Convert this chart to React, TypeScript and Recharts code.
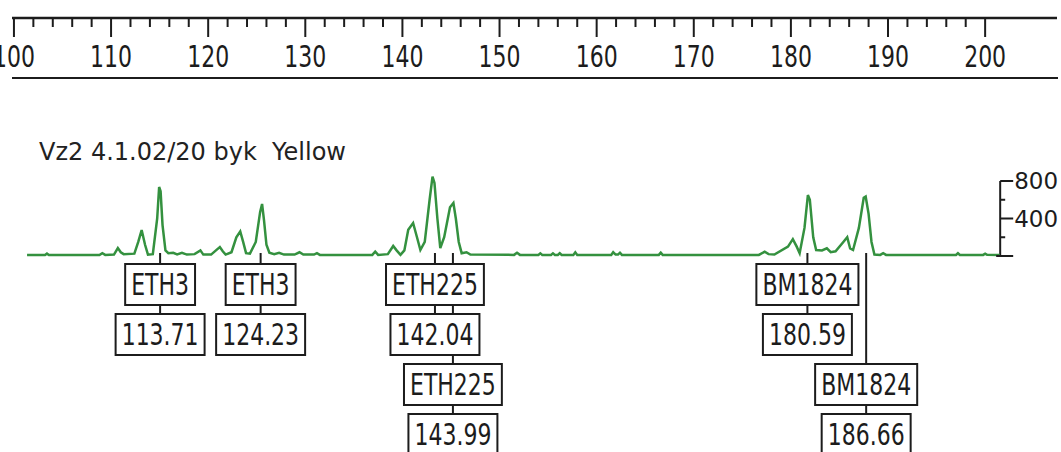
import { ComposedChart, Line, Scatter, XAxis, YAxis, ReferenceLine } from 'recharts';

// electropherogram trace (size on the ruler scale, height in rfu)
const traceSize = [
  101.35, 103.2, 103.4, 103.6, 108.8, 109.1, 109.4, 110.3, 110.7, 111.0, 111.3,
  112.4, 112.8, 113.15, 113.5, 113.8, 114.3, 114.75, 114.95, 115.1, 115.3, 115.6, 115.9,
  116.4, 116.8, 117.3, 117.8, 118.6, 119.2, 119.5,
  120.3, 120.8, 121.2, 121.5, 121.8, 122.4, 122.9, 123.3, 123.6, 123.9,
  124.3, 124.9, 125.35, 125.55, 125.75, 126.0, 126.3, 126.8, 127.3, 127.8,
  128.9, 129.4, 129.8, 130.9, 131.2, 131.5, 136.9, 137.2, 137.5,
  138.5, 139.05, 139.4, 139.8, 140.2, 140.6, 141.1, 141.5, 141.85, 142.3,
  142.8, 143.1, 143.3, 143.6, 143.9, 144.3, 144.9, 145.25, 145.5, 145.8, 146.1, 146.6, 147.0,
  151.5, 151.8, 152.1, 154.0, 154.2, 154.4, 155.3, 155.5, 155.7, 156.0, 156.2, 156.4, 157.6, 157.8, 158.0,
  161.5, 161.7, 161.95, 162.2, 162.4, 162.6, 166.4, 166.6, 166.8,
  176.7, 177.3, 177.7, 178.3, 179.7, 180.2, 180.6, 180.9,
  181.4, 181.75, 181.95, 182.3, 182.6, 183.2, 183.7, 184.1, 184.6, 185.4, 185.8, 186.1, 186.4,
  187.0, 187.5, 187.7, 188.0, 188.3, 188.6, 189.2, 189.5, 189.8, 197.0, 197.2, 197.4, 199.8, 200.0, 200.2, 201.5,
];
const traceRfu = [
  10, 10, 25, 10, 10, 30, 12, 15, 85, 40, 20,
  25, 150, 277, 120, 15, 20, 400, 736, 690, 330, 60, 30,
  35, 18, 35, 15, 20, 60, 15,
  15, 60, 96, 50, 15, 40, 200, 262, 150, 30,
  25, 150, 470, 555, 380, 120, 35, 20, 35, 15,
  15, 40, 15, 15, 30, 12, 12, 46, 12,
  20, 107, 60, 12, 60, 280, 352, 200, 64, 150,
  600, 846, 780, 400, 85, 200, 520, 565, 400, 150, 30, 40, 15,
  12, 35, 12, 12, 28, 12, 12, 28, 12, 12, 30, 12, 12, 40, 12,
  12, 40, 15, 15, 35, 12, 12, 35, 12,
  12, 45, 20, 15, 100, 180, 100, 30,
  300, 650, 600, 200, 64, 60, 82, 40, 50, 150, 200, 80, 64,
  300, 620, 633, 450, 150, 15, 12, 30, 12, 12, 30, 12, 12, 25, 12, 10,
];

const rulerTicks = [
  100, 102, 104, 106, 108, 110, 112, 114, 116, 118, 120, 122, 124, 126, 128, 130, 132, 134,
  136, 138, 140, 142, 144, 146, 148, 150, 152, 154, 156, 158, 160, 162, 164, 166, 168, 170,
  172, 174, 176, 178, 180, 182, 184, 186, 188, 190, 192, 194, 196, 198, 200,
];

const intensityTicks = [0, 200, 400, 600, 800];
const intensityLabels = ['', '', '400', '', '800'];

const markerNames = ['ETH3', 'ETH3', 'ETH225', 'ETH225', 'BM1824', 'BM1824'];
const markerSizes = ['113.71', '124.23', '142.04', '143.99', '180.59', '186.66'];
const markerAt = [115.05, 125.4, 143.35, 145.2, 181.7, 187.75];
const markerTier = [0, 0, 0, 1, 0, 1];

const TITLE = 'Vz2 4.1.02/20 byk  Yellow';

const INK = '#1c1c1c';
const GREEN = '#34913f';
const FONT = '"DejaVu Sans", "Noto Sans", sans-serif';
const X_DOMAIN = [99.8, 207.4];
const Y_DOMAIN = [0, 2539];
const SCALE_AT = 201.55;
const BOX_H = 41;

const trace = traceSize.map((size, i) => ({ size, rfu: traceRfu[i] }));
const scaleMarks = intensityTicks.map((rfu, i) => ({ size: SCALE_AT, rfu, label: intensityLabels[i] }));
// lower tier first so the upper boxes paint over its leader line
const markers = markerNames
  .map((name, i) => ({ size: markerAt[i], rfu: 0, name, value: markerSizes[i], tier: markerTier[i] }))
  .sort((a, b) => b.tier - a.tier);

let measureCtx: CanvasRenderingContext2D | null = null;
function textWidth(s: string) {
  if (!measureCtx) measureCtx = document.createElement('canvas').getContext('2d');
  if (!measureCtx) return s.length * 14;
  measureCtx.font = '22px "DejaVu Sans"';
  return measureCtx.measureText(s).width;
}

function RulerTick({ x, y, payload }: any) {
  const v = payload.value;
  const major = v % 10 === 0;
  return (
    <g>
      <line x1={x} x2={x} y1={y} y2={y + (major ? 19 : 9)} stroke={INK} strokeWidth={2} />
      {major && (
        <text transform={`translate(${x} ${y + 49}) scale(1 1.4)`} textAnchor="middle" fontSize={22} fontFamily={FONT} fill={INK}>
          {v}
        </text>
      )}
    </g>
  );
}

function ScaleMark({ cx, cy, payload }: any) {
  const major = payload.label !== '' || payload.rfu === 0;
  return (
    <g>
      <line x1={cx - (payload.rfu === 0 ? 4 : 0)} x2={cx + (major ? 13 : 5)} y1={cy} y2={cy} stroke={INK} strokeWidth={2} />
      {payload.label && (
        <text x={cx + 14} y={cy + 8} fontSize={23} fontFamily={FONT} fill={INK}>
          {payload.label}
        </text>
      )}
    </g>
  );
}

function BoxLabel({ cx, top, text }: { cx: number; top: number; text: string }) {
  const w = textWidth(text) + 12;
  return (
    <g>
      <rect x={cx - w / 2} y={top} width={w} height={BOX_H} fill="#fff" stroke={INK} strokeWidth={2} />
      <text transform={`translate(${cx} ${top + 31}) scale(1 1.35)`} textAnchor="middle" fontSize={22} fontFamily={FONT} fill={INK}>
        {text}
      </text>
    </g>
  );
}

function MarkerTag({ cx, cy, payload }: any) {
  const top = cy + 8 + payload.tier * 100;
  return (
    <g>
      <line x1={cx} x2={cx} y1={cy - 3} y2={top} stroke={INK} strokeWidth={2} />
      <line x1={cx} x2={cx} y1={top + BOX_H} y2={top + 50} stroke={INK} strokeWidth={2} />
      <BoxLabel cx={cx} top={top} text={payload.name} />
      <BoxLabel cx={cx} top={top + 50} text={payload.value} />
    </g>
  );
}

export default function App() {
  return (
    <div style={{ position: 'absolute', left: 0, top: 0, width: 1061, height: 452, background: '#fff', overflow: 'hidden' }}>
      <ComposedChart width={1061} height={452} data={trace} margin={{ top: 0, right: 4, bottom: 196, left: 12 }}>
        <XAxis
          type="number"
          dataKey="size"
          orientation="top"
          domain={X_DOMAIN}
          ticks={rulerTicks}
          interval={0}
          height={18}
          tickSize={0}
          tickMargin={0}
          tickLine={false}
          axisLine={{ stroke: INK, strokeWidth: 2.5 }}
          tick={(p: any) => <RulerTick {...p} />}
        />
        <YAxis type="number" dataKey="rfu" domain={Y_DOMAIN} hide />
        <ReferenceLine segment={[{ x: SCALE_AT, y: 0 }, { x: SCALE_AT, y: 800 }]} stroke={INK} strokeWidth={2} ifOverflow="visible" />
        <Line type="linear" dataKey="rfu" stroke={GREEN} strokeWidth={2.5} dot={false} isAnimationActive={false} />
        <Scatter data={scaleMarks} shape={(p: any) => <ScaleMark {...p} />} isAnimationActive={false} />
        <Scatter data={markers} shape={(p: any) => <MarkerTag {...p} />} isAnimationActive={false} />
      </ComposedChart>
      <div style={{ position: 'absolute', left: 12, top: 77, width: 1046, borderTop: `2.5px solid ${INK}` }} />
      <div
        style={{
          position: 'absolute',
          left: 39,
          top: 140,
          fontFamily: FONT,
          fontSize: 24,
          lineHeight: '24px',
          whiteSpace: 'pre',
          color: '#222',
        }}
      >
        {TITLE}
      </div>
    </div>
  );
}
